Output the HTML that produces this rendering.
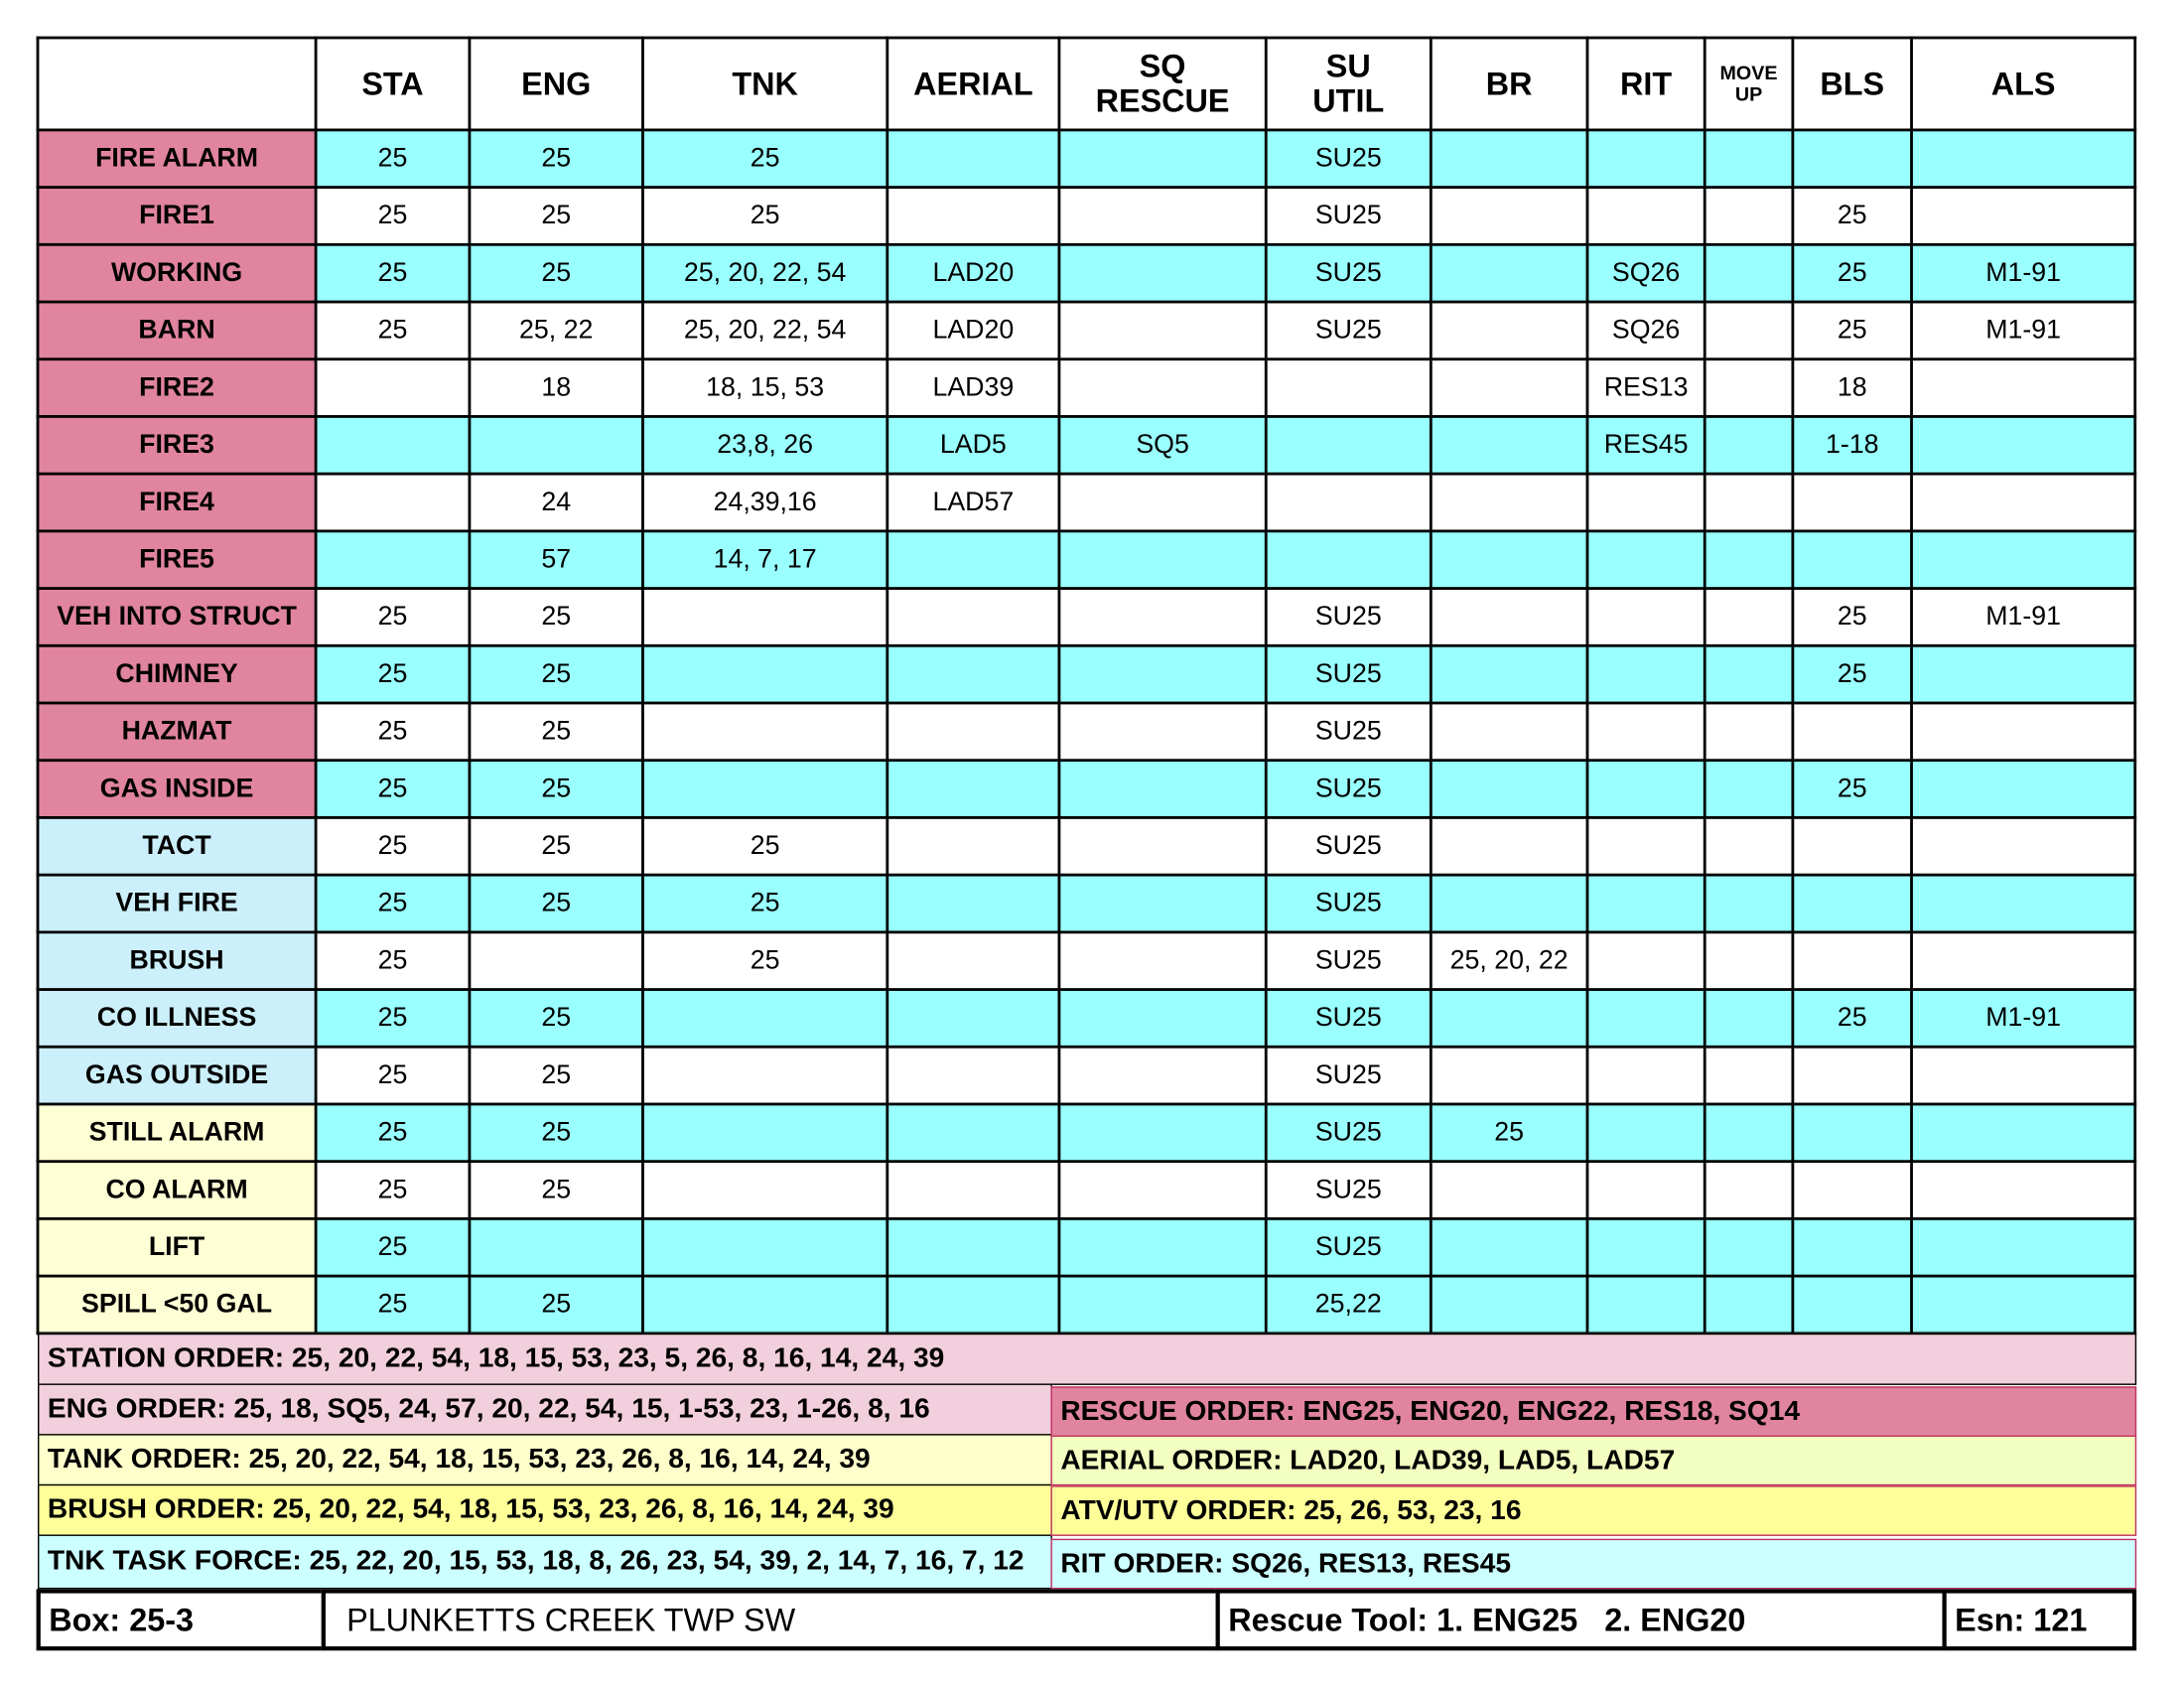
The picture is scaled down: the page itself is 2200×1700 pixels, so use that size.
<!DOCTYPE html>
<html><head><meta charset="utf-8"><style>
html,body{margin:0;padding:0;background:#fff;width:2200px;height:1700px;overflow:hidden}
#w{position:absolute;left:0;top:0;width:1563px;height:1208px;transform:scale(1.40755);transform-origin:0 0;font-family:"Liberation Sans",sans-serif}
table{position:absolute;left:26px;top:26px;border-collapse:collapse;table-layout:fixed;width:1501px}
td{border:2px solid #000;text-align:center;font-size:19px;padding:0;height:39px;line-height:20px}
tr.h td{height:64px;font-weight:bold;font-size:23px;line-height:25px;background:#fff}
tr.c td{background:#99ffff}
td.p{background:#e0849f!important;font-weight:bold}
td.b{background:#ccf0fb!important;font-weight:bold}
td.y{background:#ffffd5!important;font-weight:bold}
.o{position:absolute;box-sizing:border-box;font-weight:bold;font-size:20px;padding-left:6px;display:flex;align-items:center;border:1.5px solid #000}
.r{border:1.5px solid #c03060}
.bx{position:absolute;box-sizing:border-box;border:3px solid #000;font-size:23px;display:flex;align-items:center;padding-left:6px;top:1137px;height:44px;background:#fff}
</style></head><body><div id="w">
<table>
<colgroup><col style="width:199px"><col style="width:110px"><col style="width:124px"><col style="width:175px"><col style="width:123px"><col style="width:148px"><col style="width:118px"><col style="width:112px"><col style="width:84px"><col style="width:63px"><col style="width:85px"><col style="width:160px"></colgroup>
<tr class="h"><td></td><td>STA</td><td>ENG</td><td>TNK</td><td>AERIAL</td><td>SQ<br>RESCUE</td><td>SU<br>UTIL</td><td>BR</td><td>RIT</td><td style="font-size:14px;line-height:15px">MOVE<br>UP</td><td>BLS</td><td>ALS</td></tr>
<tr class="c"><td class="p">FIRE ALARM</td><td>25</td><td>25</td><td>25</td><td></td><td></td><td>SU25</td><td></td><td></td><td></td><td></td><td></td></tr>
<tr><td class="p">FIRE1</td><td>25</td><td>25</td><td>25</td><td></td><td></td><td>SU25</td><td></td><td></td><td></td><td>25</td><td></td></tr>
<tr class="c"><td class="p">WORKING</td><td>25</td><td>25</td><td>25, 20, 22, 54</td><td>LAD20</td><td></td><td>SU25</td><td></td><td>SQ26</td><td></td><td>25</td><td>M1-91</td></tr>
<tr><td class="p">BARN</td><td>25</td><td>25, 22</td><td>25, 20, 22, 54</td><td>LAD20</td><td></td><td>SU25</td><td></td><td>SQ26</td><td></td><td>25</td><td>M1-91</td></tr>
<tr><td class="p">FIRE2</td><td></td><td>18</td><td>18, 15, 53</td><td>LAD39</td><td></td><td></td><td></td><td>RES13</td><td></td><td>18</td><td></td></tr>
<tr class="c"><td class="p">FIRE3</td><td></td><td></td><td>23,8, 26</td><td>LAD5</td><td>SQ5</td><td></td><td></td><td>RES45</td><td></td><td>1-18</td><td></td></tr>
<tr><td class="p">FIRE4</td><td></td><td>24</td><td>24,39,16</td><td>LAD57</td><td></td><td></td><td></td><td></td><td></td><td></td><td></td></tr>
<tr class="c"><td class="p">FIRE5</td><td></td><td>57</td><td>14, 7, 17</td><td></td><td></td><td></td><td></td><td></td><td></td><td></td><td></td></tr>
<tr><td class="p">VEH INTO STRUCT</td><td>25</td><td>25</td><td></td><td></td><td></td><td>SU25</td><td></td><td></td><td></td><td>25</td><td>M1-91</td></tr>
<tr class="c"><td class="p">CHIMNEY</td><td>25</td><td>25</td><td></td><td></td><td></td><td>SU25</td><td></td><td></td><td></td><td>25</td><td></td></tr>
<tr><td class="p">HAZMAT</td><td>25</td><td>25</td><td></td><td></td><td></td><td>SU25</td><td></td><td></td><td></td><td></td><td></td></tr>
<tr class="c"><td class="p">GAS INSIDE</td><td>25</td><td>25</td><td></td><td></td><td></td><td>SU25</td><td></td><td></td><td></td><td>25</td><td></td></tr>
<tr><td class="b">TACT</td><td>25</td><td>25</td><td>25</td><td></td><td></td><td>SU25</td><td></td><td></td><td></td><td></td><td></td></tr>
<tr class="c"><td class="b">VEH FIRE</td><td>25</td><td>25</td><td>25</td><td></td><td></td><td>SU25</td><td></td><td></td><td></td><td></td><td></td></tr>
<tr><td class="b">BRUSH</td><td>25</td><td></td><td>25</td><td></td><td></td><td>SU25</td><td>25, 20, 22</td><td></td><td></td><td></td><td></td></tr>
<tr class="c"><td class="b">CO ILLNESS</td><td>25</td><td>25</td><td></td><td></td><td></td><td>SU25</td><td></td><td></td><td></td><td>25</td><td>M1-91</td></tr>
<tr><td class="b">GAS OUTSIDE</td><td>25</td><td>25</td><td></td><td></td><td></td><td>SU25</td><td></td><td></td><td></td><td></td><td></td></tr>
<tr class="c"><td class="y">STILL ALARM</td><td>25</td><td>25</td><td></td><td></td><td></td><td>SU25</td><td>25</td><td></td><td></td><td></td><td></td></tr>
<tr><td class="y">CO ALARM</td><td>25</td><td>25</td><td></td><td></td><td></td><td>SU25</td><td></td><td></td><td></td><td></td><td></td></tr>
<tr class="c"><td class="y">LIFT</td><td>25</td><td></td><td></td><td></td><td></td><td>SU25</td><td></td><td></td><td></td><td></td><td></td></tr>
<tr class="c"><td class="y">SPILL &lt;50 GAL</td><td>25</td><td>25</td><td></td><td></td><td></td><td>25,22</td><td></td><td></td><td></td><td></td><td></td></tr>
</table>
<div class="o" style="left:27px;top:954px;width:1502px;height:37px;background:#f2cfdc">STATION ORDER: 25, 20, 22, 54, 18, 15, 53, 23, 5, 26, 8, 16, 14, 24, 39</div>
<div class="o" style="left:27px;top:990px;width:726px;height:37px;background:#f2cfdc">ENG ORDER: 25, 18, SQ5, 24, 57, 20, 22, 54, 15, 1-53, 23, 1-26, 8, 16</div>
<div class="o" style="left:27px;top:1026px;width:726px;height:37px;background:#ffffcc">TANK ORDER: 25, 20, 22, 54, 18, 15, 53, 23, 26, 8, 16, 14, 24, 39</div>
<div class="o" style="left:27px;top:1062px;width:726px;height:37px;background:#ffff99">BRUSH ORDER: 25, 20, 22, 54, 18, 15, 53, 23, 26, 8, 16, 14, 24, 39</div>
<div class="o" style="left:27px;top:1098px;width:726px;height:39px;background:#ccffff">TNK TASK FORCE: 25, 22, 20, 15, 53, 18, 8, 26, 23, 54, 39, 2, 14, 7, 16, 7, 12</div>
<div class="o r" style="left:752px;top:992px;width:777px;height:36px;background:#e0849f">RESCUE ORDER: ENG25, ENG20, ENG22, RES18, SQ14</div>
<div class="o r" style="left:752px;top:1027px;width:777px;height:36px;background:#f2ffc0">AERIAL ORDER: LAD20, LAD39, LAD5, LAD57</div>
<div class="o r" style="left:752px;top:1063px;width:777px;height:36px;background:#ffff99">ATV/UTV ORDER: 25, 26, 53, 23, 16</div>
<div class="o r" style="left:752px;top:1101px;width:777px;height:36px;background:#ccffff">RIT ORDER: SQ26, RES13, RES45</div>
<div class="bx" style="left:26px;width:207px;font-weight:bold">Box: 25-3</div>
<div class="bx" style="left:230px;width:643px;padding-left:15px">PLUNKETTS CREEK TWP SW</div>
<div class="bx" style="left:870px;width:523px;font-weight:bold;white-space:pre">Rescue Tool: 1. ENG25   2. ENG20</div>
<div class="bx" style="left:1390px;width:139px;font-weight:bold">Esn: 121</div>
</div></body></html>
